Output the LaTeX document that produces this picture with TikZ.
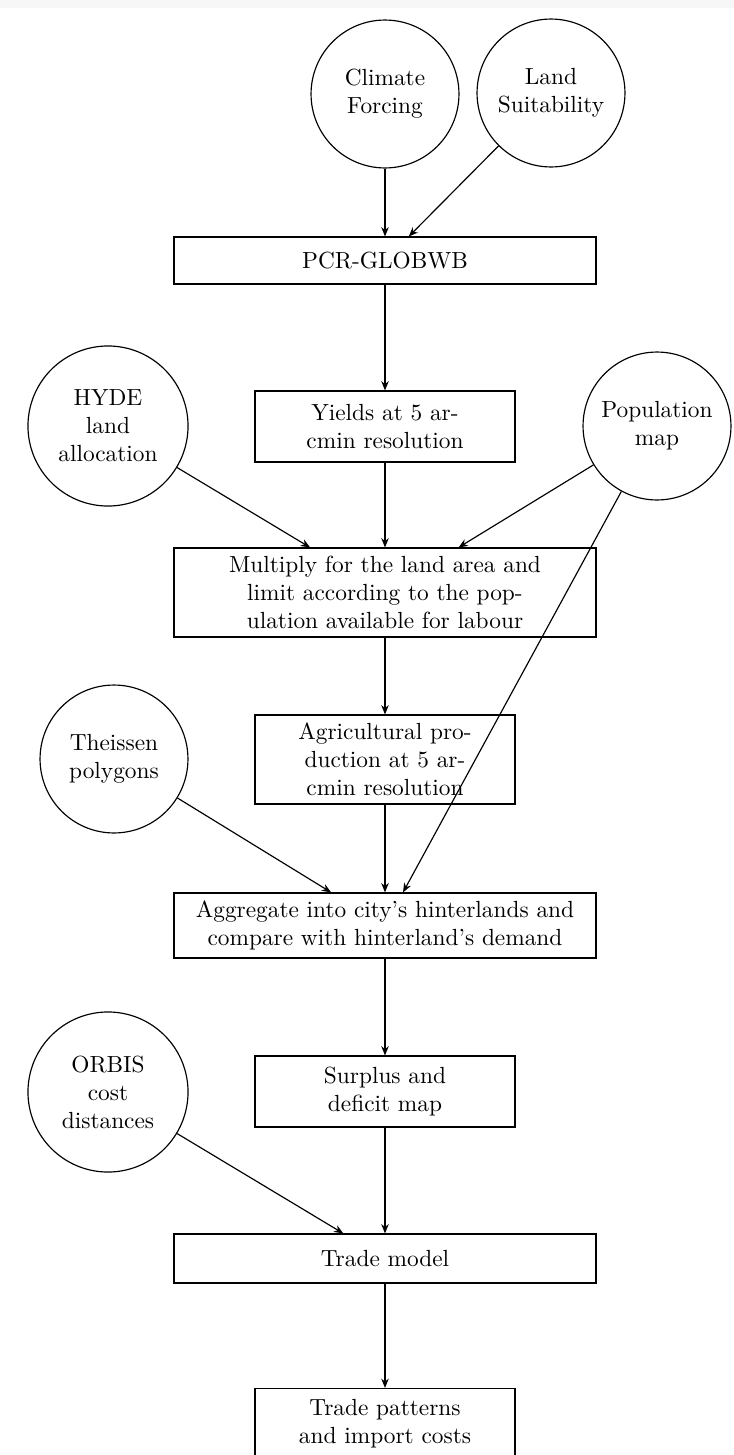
\documentclass[tikz,border=0pt]{standalone}
\usetikzlibrary{arrows.meta}
\tikzset{
  proc/.style={draw, rectangle, inner sep=0pt, align=center, line width=0.5pt},
  wide/.style={proc, minimum width=180.9pt},
  narrow/.style={proc, minimum width=111.4pt},
  src/.style={draw, circle, inner sep=0pt, align=center, minimum size=63.4pt, line width=0.5pt},
  bigsrc/.style={src, minimum size=68.6pt},
  flow/.style={-{Stealth[length=4pt,width=3.2pt]}, line width=0.5pt}
}
\begin{document}
\begin{tikzpicture}[x=0.4286pt,y=-0.4286pt]
\useasboundingbox (0,0) rectangle (734,1455);
\fill[black!3] (0,0) rectangle (734,8);
% sources
\node[src] (clim) at (385,94) {Climate\\Forcing};
\node[src] (land) at (551,93) {Land\\Suitability};
\node[bigsrc] (hyde) at (108,426) {HYDE\\land\\allocation};
\node[src] (pop) at (657,426) {Population\\map};
\node[src] (theis) at (114,759) {Theissen\\polygons};
\node[bigsrc] (orbis) at (108,1092) {ORBIS\\cost\\distances};
% process boxes
\node[wide, minimum height=20.1pt] (pcr) at (385,260.5) {PCR-GLOBWB};
\node[narrow, minimum height=30.4pt] (yields) at (385,426.5) {Yields at 5 ar-\\cmin resolution};
\node[wide, minimum height=38.1pt] (mult) at (385,592.5) {Multiply for the land area and\\limit according to the pop-\\ulation available for labour};
\node[narrow, minimum height=38.1pt] (agri) at (385,759.5) {Agricultural pro-\\duction at 5 ar-\\cmin resolution};
\node[wide, minimum height=27.9pt] (aggr) at (385,925.5) {Aggregate into city's hinterlands and\\compare with hinterland's demand};
\node[narrow, minimum height=30.4pt] (surp) at (385,1091.5) {Surplus and\\deficit map};
\node[wide, minimum height=21pt] (trade) at (385,1258.5) {Trade model};
\node[narrow, minimum height=30.4pt] (patt) at (385,1424) {Trade patterns\\and import costs};
% connectors
\draw[flow] (clim) -- (pcr);
\draw[flow] (land) -- (pcr);
\draw[flow] (pcr) -- (yields);
\draw[flow] (yields) -- (mult);
\draw[flow] (hyde) -- (mult);
\draw[flow] (pop) -- (mult);
\draw[flow] (mult) -- (agri);
\draw[flow] (agri) -- (aggr);
\draw[flow] (theis) -- (aggr);
\draw[flow] (pop) -- (aggr);
\draw[flow] (aggr) -- (surp);
\draw[flow] (surp) -- (trade);
\draw[flow] (orbis) -- (trade);
\draw[flow] (trade) -- (patt);
\end{tikzpicture}
\end{document}
